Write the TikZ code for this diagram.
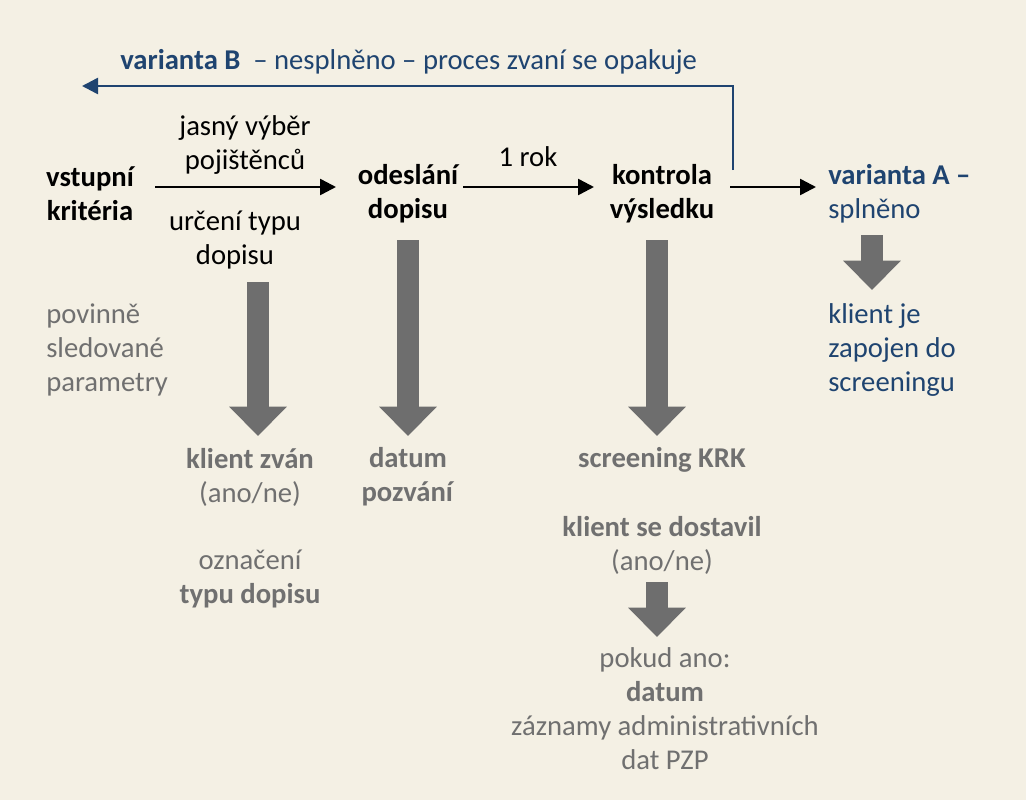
\documentclass[tikz,border=0pt]{standalone}
\usepackage{fontspec}
\setmainfont{Carlito}
\usetikzlibrary{arrows.meta}
\definecolor{bg}{HTML}{F4F0E4}
\definecolor{navy}{HTML}{1F4470}
\definecolor{gtxt}{HTML}{707070}
\definecolor{garr}{HTML}{6E6E6E}
\begin{document}
\begin{tikzpicture}[x=0.75pt,y=-0.75pt,
  every node/.style={inner sep=0pt,font=\fontsize{21.5}{25.5}\selectfont,align=center},
  blk/.style={text=black,font=\fontsize{21.5}{25.5}\selectfont\bfseries},
  gr/.style={text=gtxt},
  bl/.style={text=navy},
  flow/.style={line width=1.9pt,-{Triangle[width=12pt,length=12pt]}},
  block/.style={draw=garr,line width=16pt,-{Triangle[width=42pt,length=22pt]}}]
\fill[bg] (0,0) rectangle (1026,800);
\useasboundingbox (0,0) rectangle (1026,800);
\node[blk] (vk) at (90,194) {vstupní\\kritéria};
\node (jv) at (245,145) {jasný výběr\\pojištěnců};
\node (ut) at (235,240) {určení typu\\dopisu};
\node[blk] (od) at (408,194) {odeslání\\dopisu};
\node (rok) at (528,157) {1 rok};
\node[blk] (kv) at (662,194) {kontrola\\výsledku};
\node[bl,align=left,anchor=west] (va) at (828,194) {\textbf{varianta A –}\\splněno};
\node[bl,anchor=west] (vb) at (120,62) {\textbf{varianta B} \ – nesplněno – proces zvaní se opakuje};
\node[gr,align=left,anchor=west] (pp) at (46,350) {povinně\\sledované\\parametry};
\node[gr] (kz) at (250,477) {\textbf{klient zván}\\(ano/ne)};
\node[gr] (dp) at (408,477) {\textbf{datum}\\\textbf{pozvání}};
\node[gr] (ot) at (250,579) {označení\\\textbf{typu dopisu}};
\node[gr,font=\fontsize{21.5}{25.5}\selectfont\bfseries] (sk) at (662,460) {screening KRK};
\node[gr] (ksd) at (662,545) {\textbf{klient se dostavil}\\(ano/ne)};
\node[gr] (pa) at (665,709) {pokud ano:\\\textbf{datum}\\záznamy administrativních\\dat PZP};
\node[bl,align=left,anchor=west] (kj) at (828,350) {klient je\\zapojen do\\screeningu};
\coordinate (a1) at (155,187); \coordinate (b1) at (336,187);
\coordinate (a2) at (463,187); \coordinate (b2) at (594,187);
\coordinate (a3) at (730,187); \coordinate (b3) at (816,187);
\draw[flow] (a1) -- (b1);
\draw[flow] (a2) -- (b2);
\draw[flow] (a3) -- (b3);
\coordinate (f0) at (733,170); \coordinate (f1) at (733,86); \coordinate (f2) at (82,86);
\draw[navy,line width=1.9pt,-{Triangle[width=12pt,length=12pt]}] (f0) -- (f1) -- (f2);
\coordinate (s1) at (258,282); \coordinate (t1) at (258,436);
\coordinate (s2) at (408,240); \coordinate (t2) at (408,436);
\coordinate (s3) at (657,240); \coordinate (t3) at (657,436);
\coordinate (s4) at (872,235); \coordinate (t4) at (872,290);
\coordinate (s5) at (657,582); \coordinate (t5) at (657,637);
\foreach \i in {1,...,5} \draw[block] (s\i) -- (t\i);
\end{tikzpicture}
\end{document}
